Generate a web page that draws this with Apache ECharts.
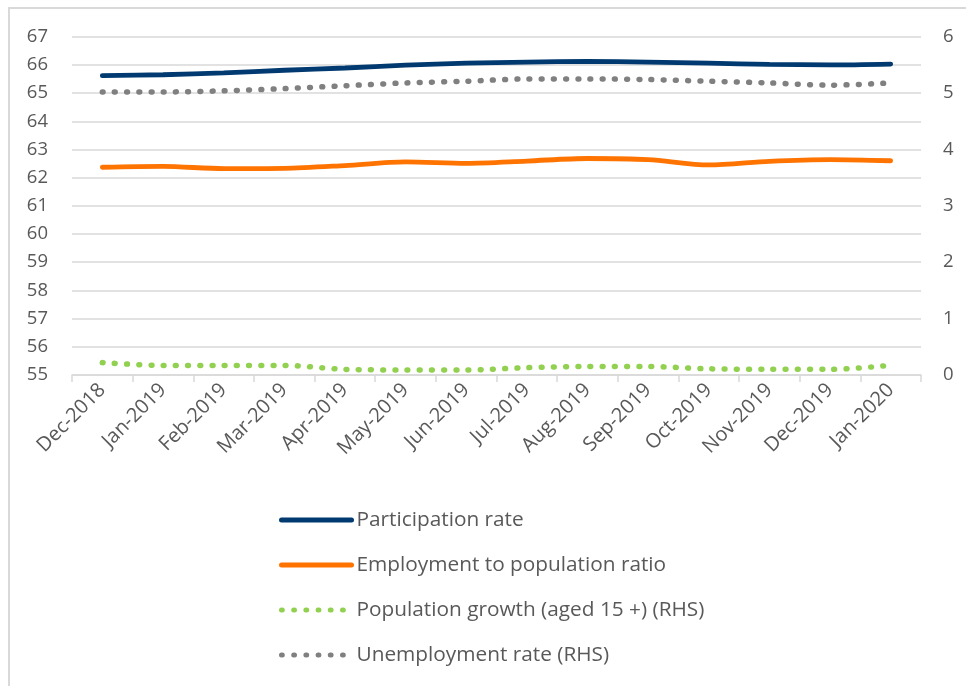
<!DOCTYPE html>
<html>
<head>
<meta charset="utf-8">
<script src="https://cdn.jsdelivr.net/npm/echarts@6/dist/echarts.min.js"></script>
<style>
html,body{margin:0;padding:0;background:#fff;}
#frame{position:absolute;left:8px;top:7px;width:1000px;height:800px;border-left:2px solid #d9d9d9;border-top:2px solid #d9d9d9;box-sizing:border-box;}
#chart{position:absolute;left:0;top:0;width:966px;height:686px;}
</style>
</head>
<body>
<div id="frame"></div>
<div id="chart"></div>
<script>
const categories = ['Dec-2018','Jan-2019','Feb-2019','Mar-2019','Apr-2019','May-2019','Jun-2019','Jul-2019','Aug-2019','Sep-2019','Oct-2019','Nov-2019','Dec-2019','Jan-2020'];
const participationRate = [65.62, 65.65, 65.72, 65.81, 65.89, 65.99, 66.06, 66.1, 66.12, 66.1, 66.06, 66.02, 66.0, 66.03];
const employmentRatio = [62.37, 62.4, 62.32, 62.33, 62.43, 62.56, 62.51, 62.59, 62.68, 62.64, 62.45, 62.58, 62.64, 62.6];
const populationGrowth = [0.22, 0.17, 0.17, 0.17, 0.1, 0.09, 0.09, 0.13, 0.15, 0.15, 0.11, 0.1, 0.1, 0.17];
const unemploymentRate = [5.02, 5.02, 5.04, 5.08, 5.13, 5.18, 5.21, 5.25, 5.25, 5.24, 5.21, 5.18, 5.14, 5.18];
const leftTicks = {min: 55, max: 67, interval: 1};
const rightTicks = {min: 0, max: 6, interval: 1};

const FONT = '"Open Sans", "Liberation Sans", sans-serif';
const TXT = '#595959';
const chart = echarts.init(document.getElementById('chart'), null, {renderer: 'canvas'});
const dotted = [0.8, 11.4];
chart.setOption({
  animation: false,
  backgroundColor: 'transparent',
  textStyle: {fontFamily: FONT},
  grid: {left: 72, right: 45, top: 36.7, bottom: 311, containLabel: false},
  legend: {
    orient: 'vertical',
    left: 274,
    top: 503,
    padding: 5,
    itemWidth: 70,
    itemHeight: 14,
    itemGap: 21,
    itemStyle: {opacity: 0},
    lineStyle: {width: 5, cap: 'round'},
    textStyle: {fontFamily: FONT, fontSize: 20.8, color: TXT, lineHeight: 24},
    data: ['Participation rate', 'Employment to population ratio', 'Population growth (aged 15 +) (RHS)', 'Unemployment rate (RHS)']
  },
  xAxis: {
    type: 'category',
    data: categories,
    boundaryGap: true,
    axisLine: {show: true, lineStyle: {color: '#d9d9d9', width: 1.5}},
    axisTick: {show: true, length: 7, lineStyle: {color: '#d9d9d9', width: 1.5}},
    axisLabel: {rotate: 45, fontSize: 20, color: TXT, fontFamily: FONT, margin: 12, interval: 0}
  },
  yAxis: [
    {
      type: 'value', min: leftTicks.min, max: leftTicks.max, interval: leftTicks.interval,
      axisLine: {show: false}, axisTick: {show: false},
      splitLine: {show: true, lineStyle: {color: '#d9d9d9', width: 1.5}},
      axisLabel: {fontSize: 18.5, color: TXT, fontFamily: FONT, margin: 24}
    },
    {
      type: 'value', min: rightTicks.min, max: rightTicks.max, interval: rightTicks.interval,
      position: 'right',
      axisLine: {show: false}, axisTick: {show: false},
      splitLine: {show: false},
      axisLabel: {fontSize: 18.5, color: TXT, fontFamily: FONT, margin: 22}
    }
  ],
  series: [
    {
      name: 'Participation rate', type: 'line', yAxisIndex: 0, data: participationRate,
      smooth: 0.3, symbol: 'none', z: 4,
      lineStyle: {color: '#003a70', width: 4.8, cap: 'round'},
      itemStyle: {color: '#003a70'}
    },
    {
      name: 'Employment to population ratio', type: 'line', yAxisIndex: 0, data: employmentRatio,
      smooth: 0.3, symbol: 'none', z: 4,
      lineStyle: {color: '#ff7300', width: 4.8, cap: 'round'},
      itemStyle: {color: '#ff7300'}
    },
    {
      name: 'Population growth (aged 15 +) (RHS)', type: 'line', yAxisIndex: 1, data: populationGrowth,
      smooth: 0.3, symbol: 'none', z: 3,
      lineStyle: {color: '#92d050', width: 5.5, type: dotted, cap: 'round'},
      itemStyle: {color: '#92d050'}
    },
    {
      name: 'Unemployment rate (RHS)', type: 'line', yAxisIndex: 1, data: unemploymentRate,
      smooth: 0.3, symbol: 'none', z: 3,
      lineStyle: {color: '#808080', width: 5.5, type: dotted, cap: 'round'},
      itemStyle: {color: '#808080'}
    }
  ]
});
</script>
</body>
</html>
